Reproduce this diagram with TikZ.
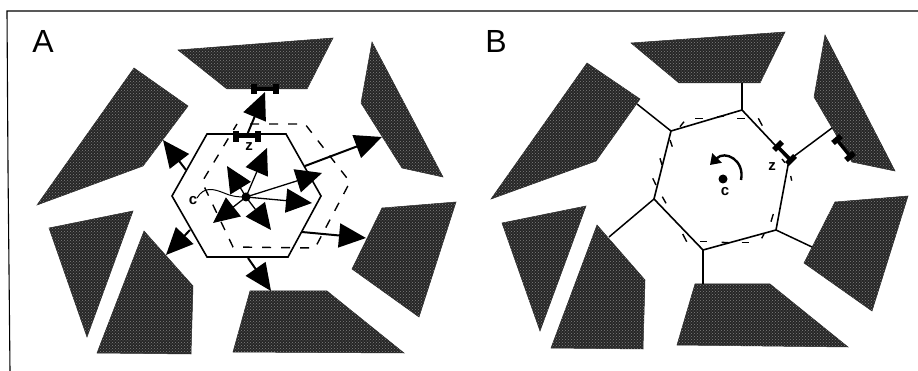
\documentclass[tikz,border=0pt]{standalone}
\usepackage{fontspec}
\setmainfont{Liberation Sans}
\usetikzlibrary{arrows.meta,patterns}
\tikzset{
  x=1pt,y=-1pt,
  wall/.style={fill=black!85,draw=black!85,line width=0.5pt,postaction={pattern=crosshatch dots,pattern color=black!50}},
  frameline/.style={line width=1.1pt,black},
  cell/.style={line width=1.6pt,black,line join=miter},
  dash hex/.style={line width=1.4pt,black,dash pattern=on 9pt off 10pt},
  tick/.style={line width=1.4pt,black},
  force/.style={black,line width=2pt,-{Triangle[length=27pt,width=24pt]}},
  inner force/.style={black,line width=1.3pt,-{Triangle[length=26pt,width=24pt]}},
  spoke/.style={line width=1.5pt,black},
  bar/.style={line width=3.4pt,black},
  bartick/.style={line width=5.5pt,black},
  panel/.style={font=\fontsize{32}{32}\selectfont,inner sep=0pt},
  small/.style={font=\fontsize{15}{15}\selectfont\bfseries,inner sep=0pt},
}
\begin{document}
\begin{tikzpicture}
\useasboundingbox (0,0) rectangle (918,371);
\fill[white] (0,0) rectangle (918,371);
% frame
\draw[frameline] (918,11) -- (7,11) -- (8,168) -- (10,371);
\node[panel] (la) at (43,41) {A};
\node[panel] (lb) at (496,41) {B};
% walls panel A
\fill[wall] (178,50)--(333,38)--(307,89)--(227,89)--cycle;
\fill[wall] (372,42)--(443,177)--(402,168)--(361,103)--cycle;
\fill[wall] (382,208)--(456,202)--(419,317)--(352,269)--cycle;
\fill[wall] (250,291)--(327,291)--(404,353)--(233,352)--cycle;
\fill[wall] (144,231)--(193,286)--(191,354)--(97,353)--cycle;
\fill[wall] (49,228)--(133,211)--(87,337)--cycle;
\fill[wall] (134,68)--(188,106)--(143,166)--(37,205)--cycle;
% walls panel B
\fill[wall] (631,43)--(785,32)--(760,83)--(679,83)--cycle;
\fill[wall] (825,35)--(895,171)--(852,162)--(814,97)--cycle;
\fill[wall] (835,202)--(908,196)--(872,311)--(804,263)--cycle;
\fill[wall] (695,284)--(770,284)--(848,347)--(677,345)--cycle;
\fill[wall] (597,225)--(645,280)--(643,349)--(551,348)--cycle;
\fill[wall] (502,223)--(586,206)--(540,331)--cycle;
\fill[wall] (587,63)--(640,99)--(596,161)--(491,199)--cycle;
% panel A: cell outlines
\draw[dash hex] (250,124)--(305,124)--(350,182)--(315,248)--(233,247)--(202,182)--(237,124);
\draw[cell] (207,134)--(286,134)--(321,196)--(288,257)--(207,257)--(172,196)--cycle;
% panel A: centre and forces
\coordinate (ca) at (246,197);
\coordinate (t1) at (267,148);
\coordinate (t2) at (227,166);
\coordinate (t3) at (322,173);
\coordinate (t4) at (312,203);
\coordinate (t5) at (271,230);
\coordinate (t6) at (213,223);
\foreach \t in {t1,t2,t3,t4,t5,t6} \draw[inner force] (ca) -- (\t);
\fill[black] (ca) circle (4.5pt);
\coordinate (o1a) at (305,166); \coordinate (o1b) at (382,137);
\coordinate (o2a) at (302,232); \coordinate (o2b) at (366,238);
\coordinate (o3a) at (248,258); \coordinate (o3b) at (271,291);
\coordinate (o4a) at (190,230); \coordinate (o4b) at (166,255);
\coordinate (o5a) at (186,170); \coordinate (o5b) at (163,140);
\coordinate (o6a) at (247,135); \coordinate (o6b) at (265,92);
\draw[force] (o1a) -- (o1b);
\draw[force] (o2a) -- (o2b);
\draw[force] (o3a) -- (o3b);
\draw[force] (o4a) -- (o4b);
\draw[force] (o5a) -- (o5b);
\draw[force] (o6a) -- (o6b);
% panel A: z bars
\draw[bar] (236,136) -- (258,136);
\draw[bartick] (236,131) -- (236,142);
\draw[bartick] (258,131) -- (258,142);
\draw[bar] (254,89) -- (276,89);
\draw[bartick] (254,84) -- (254,94);
\draw[bartick] (276,84) -- (276,94);
\node[small] (za) at (249,147) {z};
\node[small] (cla) at (193,201) {c};
\draw[line width=1pt] (197,198) .. controls (204,186) and (214,189) .. (224,193) .. controls (231,196) and (236,197) .. (ca);
% panel B: cell
\coordinate (h1) at (742,110);
\coordinate (h2) at (789,160);
\coordinate (h3) at (776,230);
\coordinate (h4) at (703,250);
\coordinate (h5) at (654,199);
\coordinate (h6) at (671,131);
\draw[cell] (h1)--(h2)--(h3)--(h4)--(h5)--(h6)--cycle;
\coordinate (s1) at (742,83);
\coordinate (s2) at (832,128);
\coordinate (s3) at (812,247);
\coordinate (s4) at (703,284);
\coordinate (s5) at (609,237);
\coordinate (s6) at (637,104);
\draw[spoke] (h1)--(s1);
\draw[spoke] (h2)--(s2);
\draw[spoke] (h3)--(s3);
\draw[spoke] (h4)--(s4);
\draw[spoke] (h5)--(s5);
\draw[spoke] (h6)--(s6);
% panel B: remains of the dashed outline
\draw[tick] (695,118.3)--(703.3,118.3);
\draw[tick] (717,117)--(724,116);
\draw[tick] (737.3,118.3)--(745.3,118.3);
\draw[tick] (758.3,118.3)--(762.3,125.7);
\draw[tick] (782,159)--(785,162.7);
\draw[tick] (790.7,176)--(791.7,180.7);
\draw[tick] (773.3,214)--(771,221.7);
\draw[tick] (741.7,242.7)--(749.3,242.7);
\draw[tick] (761.7,238.3)--(764,234);
\draw[tick] (721.7,242.3)--(728.3,242.7);
\draw[tick] (700,241.7)--(706.7,241.7);
\draw[tick] (682.7,234)--(686.7,241.7);
\draw[tick] (662.3,196.7)--(666,203.3);
\draw[tick] (652.7,178.3)--(656,185);
\draw[tick] (660,158.3)--(662,165);
\draw[tick] (670,140)--(672.3,146.7);
\draw[tick] (680,126.7)--(684,121.7);
% panel B: z bars
\draw[bar] (777,146) -- (791,160);
\draw[bartick] (774,150) -- (782,142);
\draw[bartick] (787,164) -- (795,156);
\draw[bar] (837,140) -- (850,156);
\draw[bartick] (833,143) -- (841,136);
\draw[bartick] (846,160) -- (854,153);
\node[small] (zb) at (772,167) {z};
% panel B: centre and rotation
\coordinate (cb) at (723,179);
\fill[black] (cb) circle (4.5pt);
\node[small] (clb) at (725,192) {c};
\coordinate (r1) at (741,180);
\coordinate (r2) at (710,165);
\draw[line width=2.4pt,-{Triangle[length=10pt,width=13pt]}] (r1) .. controls (745,160) and (725,150) .. (r2);
\end{tikzpicture}
\end{document}
